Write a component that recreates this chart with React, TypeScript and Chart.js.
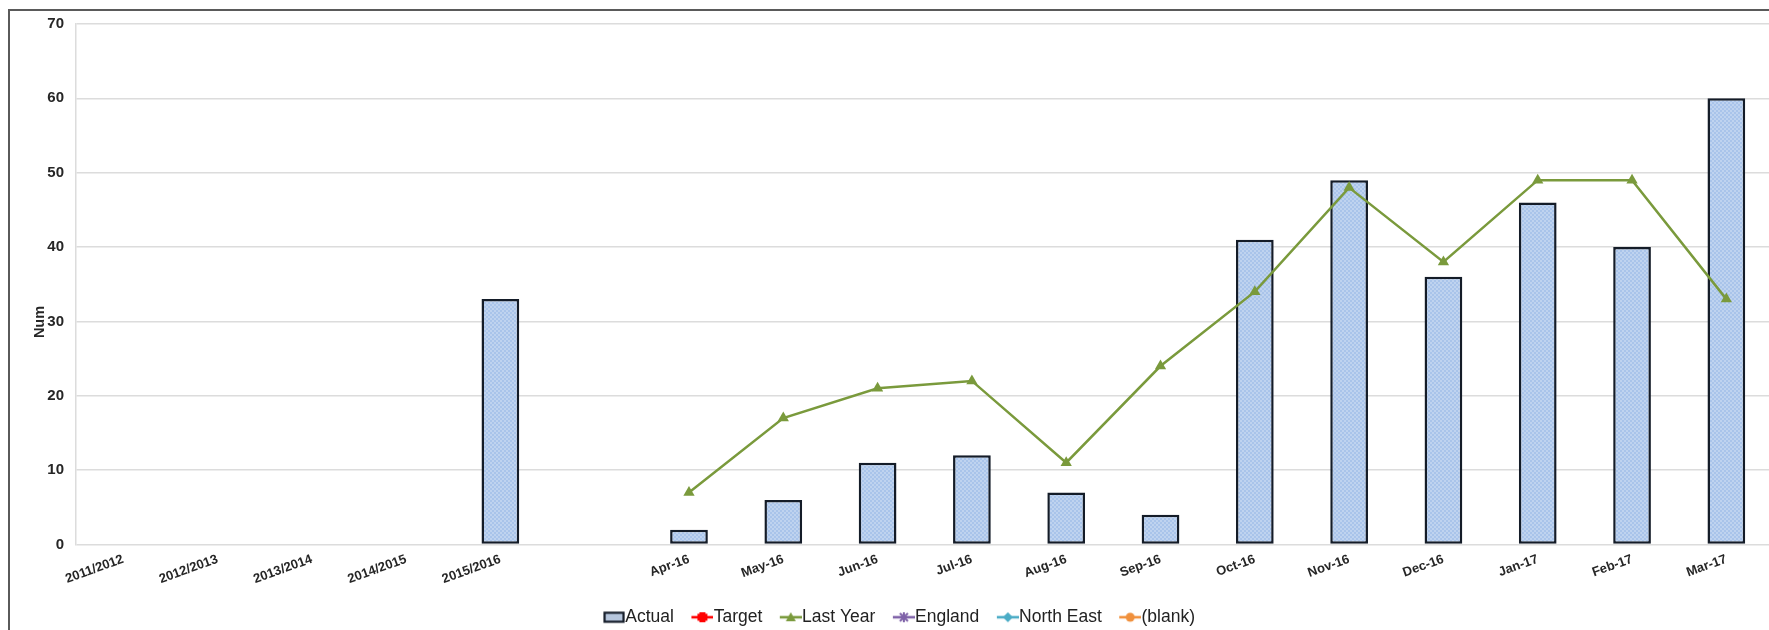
import { useEffect, useRef } from "react";
import { Chart, registerables } from "chart.js";

Chart.register(...registerables);

// Categories: five financial years, an empty spacer slot, then the months of 2016/17
const categories = [
  "2011/2012", "2012/2013", "2013/2014", "2014/2015", "2015/2016", "",
  "Apr-16", "May-16", "Jun-16", "Jul-16", "Aug-16", "Sep-16",
  "Oct-16", "Nov-16", "Dec-16", "Jan-17", "Feb-17", "Mar-17",
];

const actualValues: (number | null)[] = [
  null, null, null, null, 33, null,
  2, 6, 11, 12, 7, 4, 41, 49, 36, 46, 40, 60,
];
const lastYearValues: (number | null)[] = [
  null, null, null, null, null, null,
  7, 17, 21, 22, 11, 24, 34, 48, 38, 49, 49, 33,
];
// Series listed in the key that carry no values
const targetValues: (number | null)[] = [];
const englandValues: (number | null)[] = [];
const northEastValues: (number | null)[] = [];
const blankValues: (number | null)[] = [];

const yMin = 0;
const yMax = 70;
const yStep = 10;

const FONT = "'Liberation Sans', Arial, sans-serif";

const COLORS = {
  barBorder: "#141c28",
  target: "#ff0000",
  lastYear: "#7a9a3c",
  england: "#7f62a8",
  northEast: "#4bacc6",
  blank: "#f0903c",
  grid: "#dcdcdc",
  text: "#262626",
};

// Canvas sits a little right of the page edge so the key centres under the frame
const CANVAS_LEFT = 24;
const PLOT_LEFT = 76;
const PLOT_RIGHT = 1773.5;
const CANVAS_W = 1800;

// Small cross-hatch fill used inside the bars
function makeHatch(): CanvasPattern | string {
  const c = document.createElement("canvas");
  c.width = 4;
  c.height = 4;
  const g = c.getContext("2d");
  if (!g) return "#b0c8ea";
  g.fillStyle = "#a9c4ea";
  g.fillRect(0, 0, 4, 4);
  g.fillStyle = "#bfd3ef";
  g.fillRect(0, 0, 2, 2);
  g.fillRect(2, 2, 2, 2);
  return g.createPattern(c, "repeat") || "#b0c8ea";
}

type IconKind = "box" | "blob" | "triangle" | "star" | "diamond" | "circle";

// Key swatch: a line with a marker (or a framed box), padded on the left so
// that it sits right against the label text.
function makeIcon(kind: IconKind, color: string): HTMLCanvasElement {
  const c = document.createElement("canvas");
  c.width = 31;
  c.height = 16;
  const g = c.getContext("2d");
  if (!g) return c;
  const x0 = 9;
  const x1 = 31;
  const cy = 8;
  const cx = (x0 + x1) / 2;
  if (kind === "box") {
    g.fillStyle = "#b6c6dd";
    g.fillRect(x0 + 1.5, 3.5, 19, 9);
    g.strokeStyle = COLORS.barBorder;
    g.lineWidth = 2.2;
    g.strokeRect(x0 + 1.5, 3.5, 19, 9);
    return c;
  }
  g.strokeStyle = color;
  g.fillStyle = color;
  g.lineWidth = 2.6;
  g.beginPath();
  g.moveTo(x0, cy);
  g.lineTo(x1, cy);
  g.stroke();
  g.beginPath();
  if (kind === "blob") {
    g.fillRect(cx - 5, cy - 3.5, 10, 7);
    g.fillRect(cx - 3, cy - 5, 6, 10);
  } else if (kind === "triangle") {
    g.moveTo(cx, cy - 5);
    g.lineTo(cx + 5, cy + 4);
    g.lineTo(cx - 5, cy + 4);
    g.closePath();
    g.fill();
  } else if (kind === "star") {
    g.lineWidth = 2;
    g.moveTo(cx - 4, cy - 4);
    g.lineTo(cx + 4, cy + 4);
    g.moveTo(cx + 4, cy - 4);
    g.lineTo(cx - 4, cy + 4);
    g.moveTo(cx, cy - 5);
    g.lineTo(cx, cy + 5);
    g.stroke();
  } else if (kind === "diamond") {
    g.moveTo(cx, cy - 5);
    g.lineTo(cx + 5, cy);
    g.lineTo(cx, cy + 5);
    g.lineTo(cx - 5, cy);
    g.closePath();
    g.fill();
  } else {
    g.arc(cx, cy, 4.5, 0, Math.PI * 2);
    g.fill();
  }
  return c;
}

// Rotated "Num" axis caption
const axisCaption = {
  id: "axisCaption",
  afterDraw(chart: Chart) {
    const { ctx } = chart;
    ctx.save();
    ctx.translate(40 - CANVAS_LEFT, 322);
    ctx.rotate(-Math.PI / 2);
    ctx.font = `bold 14.5px ${FONT}`;
    ctx.fillStyle = COLORS.text;
    ctx.textAlign = "center";
    ctx.textBaseline = "middle";
    ctx.fillText("Num", 0, 0);
    ctx.restore();
  },
};

export default function App() {
  const canvasRef = useRef<HTMLCanvasElement | null>(null);

  useEffect(() => {
    const canvas = canvasRef.current;
    if (!canvas) return;

    const icons = [
      makeIcon("box", COLORS.barBorder),
      makeIcon("blob", COLORS.target),
      makeIcon("triangle", COLORS.lastYear),
      makeIcon("star", COLORS.england),
      makeIcon("diamond", COLORS.northEast),
      makeIcon("circle", COLORS.blank),
    ];

    const lineDefaults = {
      type: "line" as const,
      borderWidth: 2.5,
      pointRadius: 5,
      pointBorderWidth: 0,
      spanGaps: false,
      order: 0,
    };

    const chart = new Chart(canvas, {
      type: "bar",
      data: {
        labels: categories,
        datasets: [
          {
            type: "bar",
            label: "Actual",
            data: actualValues,
            backgroundColor: makeHatch(),
            borderColor: COLORS.barBorder,
            borderWidth: 2.5,
            borderSkipped: false,
            barPercentage: 0.4,
            categoryPercentage: 1,
            order: 1,
          },
          {
            ...lineDefaults,
            label: "Target",
            data: targetValues,
            borderColor: COLORS.target,
            backgroundColor: COLORS.target,
          },
          {
            ...lineDefaults,
            label: "Last Year",
            data: lastYearValues,
            borderColor: COLORS.lastYear,
            backgroundColor: COLORS.lastYear,
            pointStyle: "triangle",
            pointRadius: 6.5,
          },
          {
            ...lineDefaults,
            label: "England",
            data: englandValues,
            borderColor: COLORS.england,
            backgroundColor: COLORS.england,
          },
          {
            ...lineDefaults,
            label: "North East",
            data: northEastValues,
            borderColor: COLORS.northEast,
            backgroundColor: COLORS.northEast,
          },
          {
            ...lineDefaults,
            label: "(blank)",
            data: blankValues,
            borderColor: COLORS.blank,
            backgroundColor: COLORS.blank,
          },
        ],
      },
      options: {
        animation: false,
        responsive: false,
        maintainAspectRatio: false,
        layout: {
          padding: {
            top: 24,
            right: CANVAS_W + CANVAS_LEFT - PLOT_RIGHT,
            bottom: 0,
            left: 0,
          },
        },
        plugins: {
          tooltip: { enabled: false },
          legend: {
            position: "bottom",
            labels: {
              usePointStyle: true,
              pointStyleWidth: 14,
              padding: 17,
              color: "#222",
              font: { family: FONT, size: 17.5 },
              generateLabels(ch: Chart) {
                return ch.data.datasets.map((ds, i) => ({
                  text: String(ds.label),
                  datasetIndex: i,
                  pointStyle: icons[i],
                  fillStyle: "transparent",
                  strokeStyle: "transparent",
                  lineWidth: 0,
                  hidden: false,
                  fontColor: "#222",
                }));
              },
            },
          },
        },
        scales: {
          x: {
            grid: { display: false },
            border: { display: false },
            ticks: {
              autoSkip: false,
              minRotation: 20,
              maxRotation: 20,
              padding: -1,
              color: COLORS.text,
              font: { family: FONT, size: 13, weight: "bold" },
            },
            afterFit(scale: any) {
              scale.height = 47;
            },
          },
          y: {
            min: yMin,
            max: yMax,
            ticks: {
              stepSize: yStep,
              padding: 12,
              color: COLORS.text,
              font: { family: FONT, size: 15, weight: "bold" },
            },
            grid: { color: COLORS.grid, lineWidth: 1.5, drawTicks: false },
            border: { display: true, color: COLORS.grid, width: 1.5 },
            afterFit(scale: any) {
              scale.width = PLOT_LEFT - CANVAS_LEFT;
            },
          },
        },
      },
      plugins: [axisCaption],
    } as any);

    return () => chart.destroy();
  }, []);

  return (
    <div
      style={{
        position: "fixed",
        left: 0,
        top: 0,
        width: 1769,
        height: 630,
        overflow: "hidden",
        background: "#fff",
      }}
    >
      <div
        style={{
          position: "absolute",
          left: 8,
          top: 9,
          width: 1800,
          height: 700,
          border: "2px solid #5a5a5a",
        }}
      />
      <canvas
        ref={canvasRef}
        width={CANVAS_W}
        height={636}
        style={{ position: "absolute", left: CANVAS_LEFT, top: 0, width: CANVAS_W, height: 636 }}
      />
    </div>
  );
}
